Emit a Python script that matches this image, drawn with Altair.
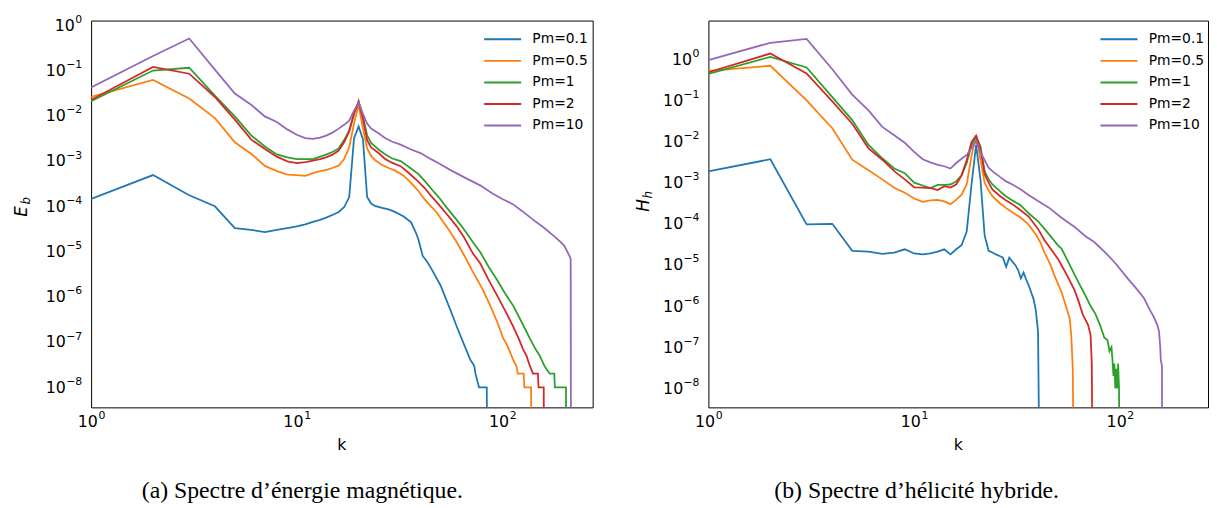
import altair as alt
import pandas as pd

SERIES = ["Pm=0.1", "Pm=0.5", "Pm=1", "Pm=2", "Pm=10"]
COLORS = ["#1f77b4", "#ff7f0e", "#2ca02c", "#d62728", "#9467bd"]

# ---------------- (a) magnetic energy spectrum E_b(k) ----------------
EB_K_01 = list(range(1, 25)) + [26, 28, 30, 33, 36, 38, 39, 41, 43, 45, 50, 56, 60, 65, 70, 73, 74, 77, 84, 85]
EB_V_01 = [1.45e-4, 4.9e-4, 1.75e-4, 1.0e-4, 3.3e-5, 3.0e-5, 2.7e-5, 3.0e-5, 3.3e-5, 3.6e-5, 4.0e-5, 4.5e-5,
           5.0e-5, 5.7e-5, 6.5e-5, 7.5e-5, 9.5e-5, 1.6e-4, 3.2e-3, 5.8e-3, 3.0e-3, 1.6e-4, 1.15e-4, 1.02e-4,
           9.2e-5, 8.5e-5, 7.5e-5, 6.0e-5, 4.4e-5, 2.6e-5, 1.9e-5, 8e-6, 6e-6, 4.3e-6, 1.8e-6, 5e-7, 2.2e-7,
           9e-8, 4e-8, 3e-8, 2e-8, 1e-8, 1e-8, 0]

EB_K_05 = list(range(1, 25)) + [26, 28, 30, 33, 36, 39, 42, 45, 48, 50, 55, 60, 65, 72, 80, 87, 95, 101, 105,
                                109, 113, 117, 119, 127, 128, 138, 139]
EB_V_05 = [0.026, 0.062, 0.024, 0.0089, 0.0026, 0.00145, 0.00078, 0.0006, 0.0005, 0.00049, 0.00047, 0.00054,
           0.0006, 0.00064, 0.00071, 0.00079, 0.0011, 0.002, 0.0068, 0.0175, 0.0052, 0.0019, 0.0013, 0.00105,
           0.00082, 0.0007, 0.00062, 0.00048, 0.00033, 0.00022, 0.00014, 1e-4, 7.3e-5, 5.5e-5, 3e-5, 1.6e-5,
           8.5e-6, 3.5e-6, 1.5e-6, 6.6e-7, 2.6e-7, 1.2e-7, 9e-8, 6e-8, 4e-8, 3e-8, 2e-8, 2e-8, 1e-8, 1e-8, 0]

EB_K_1 = list(range(1, 24)) + [25, 27, 29, 32, 35, 39, 42, 46, 49, 54, 60, 65, 72, 78, 86, 94, 103, 113, 125,
                               136, 145, 152, 160, 170, 179, 180, 204, 205]
EB_V_1 = [0.021, 0.1, 0.115, 0.028, 0.0097, 0.0037, 0.0021, 0.0014, 0.0012, 0.0011, 0.0011, 0.0011, 0.00125,
          0.0014, 0.0016, 0.0019, 0.0029, 0.0047, 0.0115, 0.02, 0.0095, 0.0037, 0.0025,
          0.0018, 0.0014, 0.00115, 0.001, 0.00075, 0.00052, 0.00036, 0.00022, 0.00016, 9e-5, 5e-5, 3.1e-5,
          1.6e-5, 9.8e-6, 4.5e-6, 2.4e-6, 1.2e-6, 6.3e-7, 2.6e-7, 1.2e-7, 7e-8, 5e-8, 3e-8, 2e-8, 2e-8, 1e-8,
          1e-8, 0]

EB_K_2 = list(range(1, 24)) + [25, 27, 29, 32, 35, 39, 42, 45, 49, 54, 60, 65, 72, 78, 86, 94, 103, 113, 120,
                               126, 131, 136, 141, 149, 150, 159, 160]
EB_V_2 = [0.0225, 0.12, 0.085, 0.026, 0.0082, 0.003, 0.00185, 0.00125, 0.00098, 0.0009, 0.00095, 0.00102,
          0.0011, 0.00122, 0.0014, 0.0017, 0.0026, 0.0045, 0.011, 0.021, 0.0085, 0.0029, 0.002,
          0.0015, 0.0011, 0.00092, 0.00077, 0.00055, 0.00035, 0.00025, 0.00017, 0.00011, 6.5e-5, 3.6e-5, 2.1e-5,
          9e-6, 5.5e-6, 2.3e-6, 1.1e-6, 5e-7, 2.2e-7, 1.2e-7, 7e-8, 5e-8, 3e-8, 2e-8, 2e-8, 1e-8, 1e-8, 0]

EB_K_10 = list(range(1, 24)) + [25, 27, 29, 32, 36, 40, 45, 50, 56, 65, 78, 90, 100, 113, 125, 140, 160, 176,
                                190, 200, 207, 212, 215, 216]
EB_V_10 = [0.042, 0.21, 0.51, 0.105, 0.031, 0.0175, 0.0097, 0.0073, 0.005, 0.0038, 0.0032, 0.0031, 0.0033,
           0.0037, 0.0043, 0.0052, 0.0063, 0.0078, 0.013, 0.0195, 0.011, 0.0067, 0.0052,
           0.0041, 0.0032, 0.0027, 0.0023, 0.0018, 0.0015, 0.0011, 8.5e-4, 6.3e-4, 4.4e-4, 2.9e-4, 1.9e-4,
           1.45e-4, 1.1e-4, 7.8e-5, 5.2e-5, 3.3e-5, 2.3e-5, 1.7e-5, 1.35e-5, 1e-5, 8e-6, 6.9e-6, 0]

# ---------------- (b) hybrid helicity spectrum H_h(k) ----------------
HH_K_01 = list(range(1, 42))
HH_V_01 = [0.00187, 0.0037, 9.7e-5, 1.0e-4, 2.2e-5, 2.1e-5, 1.85e-5, 2.0e-5, 2.4e-5, 1.9e-5, 1.8e-5, 1.9e-5,
           2.1e-5, 2.4e-5, 1.8e-5, 2.4e-5, 3.0e-5, 6.5e-5, 9e-4, 0.0083, 1.2e-3, 5.2e-5, 2.2e-5, 2.0e-5, 1.8e-5,
           1.65e-5, 1.5e-5, 9e-6, 1.5e-5, 1.2e-5, 1.0e-5, 7.5e-6, 4.7e-6, 6.5e-6, 4.5e-6, 3.2e-6, 2.2e-6,
           1.5e-6, 8e-7, 2.4e-7, 0]

HH_K_05 = list(range(1, 25)) + [26, 28, 30, 33, 36, 39, 41, 43, 46, 48, 50, 52, 55, 57, 58, 59, 60]
HH_V_05 = [0.52, 0.69, 0.1, 0.021, 0.0036, 0.002, 0.0012, 0.00075, 0.00057, 0.00041, 0.00034, 0.00037,
           0.00038, 0.00035, 0.0003, 0.00038, 0.00051, 0.0009, 0.0045, 0.0142, 0.0036, 0.001, 0.00065, 0.00047,
           0.00032, 0.00024, 0.00019, 0.00014, 9.5e-5, 5.5e-5, 3.6e-5, 2e-5, 1e-5, 5.6e-6, 3.5e-6, 2.2e-6,
           9e-7, 5e-7, 2e-7, 3e-8, 0]

HH_K_1 = list(range(1, 25)) + [26, 28, 30, 33, 36, 40, 43, 46, 50, 52, 56, 60, 64, 68, 72, 76, 80, 84, 87, 89,
                               91, 92, 93, 94, 95, 96, 97, 98, 99, 100]
HH_V_1 = [0.44, 1.14, 0.63, 0.12, 0.033, 0.0082, 0.0039, 0.0022, 0.0017, 0.001, 0.00085, 0.00074, 0.00088,
          0.00088, 0.0009, 0.00107, 0.0015, 0.003, 0.0082, 0.013, 0.0075, 0.0019, 0.0012, 0.0009,
          0.00063, 0.00046, 0.00037, 0.00028, 0.00018, 0.000115, 7.5e-5, 5e-5, 3e-5, 2.5e-5, 1.2e-5, 6e-6,
          3.2e-6, 1.8e-6, 1e-6, 6.5e-7, 3.5e-7, 1.7e-7, 1.5e-7, 8e-8, 1e-7, 5e-8, 2e-8, 4e-8, 1e-8, 3e-8,
          1e-8, 4e-8, 1e-8, 0]

HH_K_2 = list(range(1, 25)) + [26, 28, 30, 33, 36, 40, 43, 46, 50, 52, 56, 60, 63, 66, 70, 72, 73, 74]
HH_V_2 = [0.48, 1.37, 0.45, 0.094, 0.027, 0.0068, 0.0036, 0.0019, 0.0012, 0.00077, 0.00076, 0.00074, 0.00066,
          0.00082, 0.00076, 0.0009, 0.0015, 0.0035, 0.0098, 0.0138, 0.0068, 0.0016, 0.001, 0.00068,
          0.00048, 0.00037, 0.0003, 0.00021, 0.00015, 7.5e-5, 4e-5, 2.5e-5, 1.4e-5, 9.8e-6, 5e-6, 2.5e-6,
          1.3e-6, 6.2e-7, 3.5e-7, 2e-7, 4e-8, 0]

HH_K_10 = list(range(1, 25)) + [26, 28, 30, 33, 36, 40, 45, 52, 60, 68, 75, 85, 95, 109, 120, 131, 140, 146,
                                152, 155, 157, 158, 160, 161]
HH_V_10 = [0.95, 2.5, 3.1, 0.57, 0.138, 0.057, 0.0226, 0.0142, 0.0093, 0.0056, 0.0037, 0.0031, 0.0027, 0.0025,
           0.0022, 0.003, 0.0038, 0.0047, 0.0068, 0.01, 0.0055, 0.0035, 0.0023, 0.0019,
           0.0014, 0.00107, 0.0009, 0.00068, 0.0005, 0.00036, 0.00025, 0.00014, 8.5e-5, 5e-5, 3.6e-5, 2e-5,
           1.1e-5, 4.7e-6, 2.7e-6, 1.55e-6, 8e-7, 5.5e-7, 3.5e-7, 2.4e-7, 1e-7, 5e-8, 3.5e-8, 0]

CAPTION_A = "(a) Spectre d\u2019énergie magnétique."
CAPTION_B = "(b) Spectre d\u2019hélicité hybride."

# major tick exponents shown with labels
X_EXPONENTS = [0, 1, 2]
Y_EXPONENTS = [-8, -7, -6, -5, -4, -3, -2, -1, 0]

FLOOR = 1e-12  # an exact zero of the spectrum, sent far below the log axis
FONT = "DejaVu Sans"


def frame(ks_list, vs_list):
    rows = []
    for name, ks, vs in zip(SERIES, ks_list, vs_list):
        assert len(ks) == len(vs), (name, len(ks), len(vs))
        for k, v in zip(ks, vs):
            rows.append({"k": k, "v": v if v > 0 else FLOOR, "series": name})
    return pd.DataFrame(rows)


def tick_values(lo, hi, vmin, vmax):
    vals = []
    for e in range(lo, hi + 1):
        for m in range(1, 10):
            t = m * 10.0 ** e
            if vmin <= t <= vmax:
                vals.append(t)
    return vals


def exp_table(exps):
    return pd.DataFrame({"val": [10.0 ** e for e in exps],
                         "base": ["10"] * len(exps),
                         "exp": [str(e).replace("-", "\u2212") for e in exps],
                         "neg": [e < 0 for e in exps]})


LOG = "(log(datum.value)/LN10)"
IS_MAJOR = f"abs({LOG} - round({LOG})) < 0.001"
TICK_SIZE = {"condition": {"test": IS_MAJOR, "value": 5}, "value": 2.5}
TICK_WIDTH = {"condition": {"test": IS_MAJOR, "value": 1}, "value": 0.8}
AXIS_STYLE = dict(labels=False, title=None, tickColor="black", domainColor="black", grid=False,
                  tickSize=TICK_SIZE, tickWidth=TICK_WIDTH)

BASE_SIZE = 16
EXP_SIZE = 11


def panel(df, xmax, ymin, ymax, width, height, caption, cap_dx, main, sub, tpos, spos, legend_x):
    xscale = alt.Scale(type="log", domain=[1, xmax], nice=False)
    yscale = alt.Scale(type="log", domain=[ymin, ymax], nice=False)
    x = alt.X("k:Q", scale=xscale, axis=alt.Axis(values=tick_values(0, 2, 1, xmax), **AXIS_STYLE))
    y = alt.Y("v:Q", scale=yscale, axis=alt.Axis(values=tick_values(-9, 0, ymin, ymax), **AXIS_STYLE))
    color = alt.Color("series:N", scale=alt.Scale(domain=SERIES, range=COLORS),
                      legend=alt.Legend(title=None, orient="none", legendX=legend_x, legendY=11,
                                        symbolType="stroke", symbolSize=1400, symbolStrokeWidth=2,
                                        labelFont=FONT, labelFontSize=14, labelColor="black",
                                        clipHeight=16, rowPadding=5.75, labelOffset=10, padding=0))
    lines = alt.Chart(df).mark_line(clip=True, strokeWidth=1.8).encode(x=x, y=y, color=color)

    # tick labels 10^n drawn as text through the same scales
    xt = exp_table(X_EXPONENTS)
    xlab_base = alt.Chart(xt).mark_text(font=FONT, fontSize=BASE_SIZE, align="left", baseline="middle",
                                        dx=-13.5, color="black").encode(
        x=alt.X("val:Q", scale=xscale, axis=None), y=alt.value(height + 15), text="base:N")
    xlab_exp = alt.Chart(xt).mark_text(font=FONT, fontSize=EXP_SIZE, align="left", baseline="middle",
                                       dx=7.5, color="black").encode(
        x=alt.X("val:Q", scale=xscale, axis=None), y=alt.value(height + 9), text="exp:N")

    yt = exp_table([e for e in Y_EXPONENTS if ymin <= 10.0 ** e <= ymax])
    ylab_exp = alt.Chart(yt).mark_text(font=FONT, fontSize=EXP_SIZE, align="right", baseline="middle",
                                       dx=0, dy=-5.5, color="black").encode(
        y=alt.Y("val:Q", scale=yscale, axis=None), x=alt.value(-9), text="exp:N")
    ylab_base_neg = alt.Chart(yt).transform_filter("datum.neg").mark_text(
        font=FONT, fontSize=BASE_SIZE, align="right", baseline="middle", dy=0.5, color="black").encode(
        y=alt.Y("val:Q", scale=yscale, axis=None), x=alt.value(-25.5), text="base:N")
    ylab_base_zero = alt.Chart(yt).transform_filter("!datum.neg").mark_text(
        font=FONT, fontSize=BASE_SIZE, align="right", baseline="middle", dy=0.5, color="black").encode(
        y=alt.Y("val:Q", scale=yscale, axis=None), x=alt.value(-16.5), text="base:N")

    k_title = alt.Chart(pd.DataFrame({"t": ["k"]})).mark_text(
        font=FONT, fontSize=BASE_SIZE, align="center", baseline="middle", color="black").encode(
        text="t:N", x=alt.value(width / 2), y=alt.value(height + 38))
    t_main = alt.Chart(pd.DataFrame({"t": [main]})).mark_text(
        angle=270, font=FONT, fontStyle="italic", fontSize=17, align="center", baseline="middle",
        color="black").encode(text="t:N", x=alt.value(tpos[0]), y=alt.value(tpos[1]))
    t_sub = alt.Chart(pd.DataFrame({"t": [sub]})).mark_text(
        angle=270, font=FONT, fontStyle="italic", fontSize=12, align="center", baseline="middle",
        color="black").encode(text="t:N", x=alt.value(spos[0]), y=alt.value(spos[1]))
    return alt.layer(lines, xlab_base, xlab_exp, ylab_exp, ylab_base_neg, ylab_base_zero,
                     k_title, t_main, t_sub).properties(
        width=width, height=height,
        title=alt.TitleParams(caption, orient="bottom", anchor="middle", frame="group",
                              font="Liberation Serif", fontSize=24, fontWeight="normal", color="black",
                              offset=27, dx=cap_dx))


df_a = frame([EB_K_01, EB_K_05, EB_K_1, EB_K_2, EB_K_10], [EB_V_01, EB_V_05, EB_V_1, EB_V_2, EB_V_10])
df_b = frame([HH_K_01, HH_K_05, HH_K_1, HH_K_2, HH_K_10], [HH_V_01, HH_V_05, HH_V_1, HH_V_2, HH_V_10])

left = panel(df_a, 275, 3.6e-9, 1.27, 507, 391, CAPTION_A, -40, "E", "b", (-70, 193), (-66, 182), 396)
right = panel(df_b, 268, 3.46e-9, 8.66, 505, 391, CAPTION_B, -42, "H", "h", (-65, 187), (-61, 176), 395)

chart = alt.hconcat(left, right, spacing=117, bounds="flush").resolve_scale(color="independent").configure_view(
    stroke="black", strokeWidth=1).properties(padding={"left": 4, "top": 2, "right": 0, "bottom": 0})

chart.save("out.html", embed_options={"renderer": "svg", "actions": False})
